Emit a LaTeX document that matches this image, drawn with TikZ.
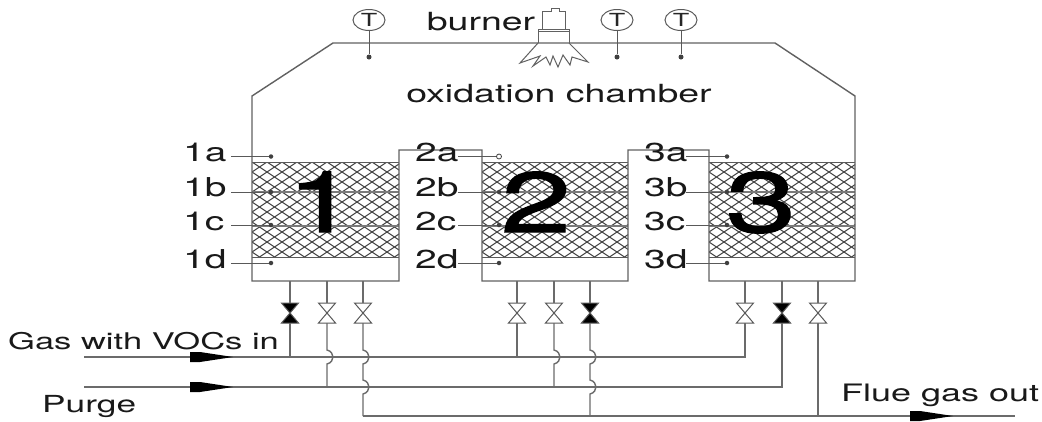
\documentclass[tikz,border=0pt]{standalone}
\usepackage{fontspec}
\setmainfont[FakeStretch=1.5]{TeX Gyre Heros}
\newfontfamily\bignum[FakeStretch=1.5,FakeBold=1.5]{TeX Gyre Heros}
\usetikzlibrary{shapes.geometric}
\tikzset{
  x=1pt,y=-1pt,
  wall/.style={draw=black!62,line width=1.4pt},
  pipe/.style={draw=black!58,line width=1.4pt},
  thin line/.style={draw=black!65,line width=1pt},
  sep/.style={draw=black!52,line width=2.2pt},
  hatch/.style={draw=black!72,line width=1pt},
  lab/.style={inner sep=0pt,text=black!90,font=\fontsize{25}{25}\selectfont,anchor=base},
  tag/.style={inner sep=0pt,text=black!90,font=\fontsize{26}{26}\selectfont,anchor=base west},
  side/.style={inner sep=0pt,text=black!90,font=\fontsize{23.5}{24}\selectfont,anchor=base west},
  big/.style={inner sep=0pt,text=black,font=\bignum\fontsize{85}{85}\selectfont,anchor=base},
  tcirc/.style={ellipse,draw=black!65,line width=1pt,minimum width=32pt,minimum height=21pt,inner sep=0pt,font=\fontsize{18}{18}\selectfont,text=black!85},
  dot/.style={circle,fill=black!75,inner sep=0pt,minimum size=5pt},
  opendot/.style={circle,draw=black!75,fill=white,line width=.8pt,inner sep=0pt,minimum size=5pt},
  flowhead/.style={fill=black,draw=none},
}
\newcommand{\bedhatch}[2]{%
  \begin{scope}
    \clip (#1,162) rectangle (#2,257);
    \foreach \k in {-12,...,22}{
      \draw[hatch] ({#1+\k*15},162) -- ++(142.5,95);
      \draw[hatch] ({#1+\k*15},162) -- ++(-142.5,95);
    }
  \end{scope}}
\newcommand{\valve}[3]{% x, fill, name
  \coordinate (#3) at (#1,313);
  \path[draw=black!65,line width=1pt,fill=#2] (#3) -- ++(-8.5,-10) -- ++(17,0) -- cycle;
  \path[draw=black!65,line width=1pt,fill=#2] (#3) -- ++(-8.5,10) -- ++(17,0) -- cycle;}
\begin{document}
\begin{tikzpicture}
\useasboundingbox (0,0) rectangle (1042,421);
\fill[white] (0,0) rectangle (1042,421);
% packing
\bedhatch{252}{399}
\bedhatch{482}{628}
\bedhatch{709}{855}
\foreach \a/\b in {252/399,482/628,709/855}{
  \draw[thin line] (\a,162) -- (\b,162);
  \draw[thin line] (\a,257) -- (\b,257);
  \draw[sep] (\a,192) -- (\b,192);
  \draw[sep] (\a,226) -- (\b,226);
}
% vessel outline
\draw[wall] (252,281) -- (252,96) -- (333,43) -- (775,43) -- (855,96) -- (855,281)
  -- (709,281) -- (709,150) -- (628,150) -- (628,281) -- (482,281) -- (482,150)
  -- (399,150) -- (399,281) -- cycle;
% big numbers
\node[big] (n1) at (322,232) {1};
\node[big] (n2) at (536,232) {2};
\node[big] (n3) at (761,232) {3};
% thermocouples
\foreach \x/\n in {369/ta,617/tb,681/tc}{
  \node[tcirc] (\n) at (\x,20) {T};
  \node[dot,minimum size=5pt] (\n d) at (\x,57) {};
  \draw[thin line] (\n) -- (\n d);
}
% burner
\draw[wall,line width=1pt] (538,43) -- (538,29) -- (569,29) -- (569,43);
\draw[wall,line width=1pt] (538,31.5) -- (569,31.5);
\draw[wall,line width=1pt] (542,29) -- (542,11) -- (551,11) -- (551,8) -- (559,8) -- (559,11) -- (565,11) -- (565,29);
\draw[wall,line width=1pt] (538,43) -- (520,63) -- (540,56) -- (533,66) -- (546,57) -- (550,65) -- (553,56) -- (558,67) -- (563,55) -- (570,65) -- (572,57) -- (588,62) -- (569,43);
\node[lab] (burner) at (481,30) {burner};
\node[lab] (chamber) at (559,102) {oxidation chamber};
% sampling tags
\foreach \s/\x/\lx/\sx in {1/271/183/231,2/499/415/458,3/727/644/686}{
  \foreach \t/\y/\ly in {a/156.5/161,b/192/196,c/225/230,d/263/268}{
    \node[tag] (l\s\t) at (\lx,\ly) {\s\t};
    \node[dot,minimum size=4.5pt] (d\s\t) at (\x,\y) {};
    \draw[thin line] (\sx,\y) -- (d\s\t);
  }
}
\node[opendot] (open2a) at (499,156.5) {};
% valves
\valve{290}{black}{va}
\valve{327}{white}{vb}
\valve{363}{white}{vc}
\valve{517}{white}{vd}
\valve{554}{white}{ve}
\valve{590}{black}{vf}
\valve{745}{white}{vg}
\valve{782}{black}{vh}
\valve{818}{white}{vi}
% main lines
\coordinate (gasS) at (84,357); \coordinate (gasE) at (745,357);
\coordinate (purS) at (84,387); \coordinate (purE) at (782,387);
\coordinate (flueS) at (363,416); \coordinate (flueE) at (1015,416);
\draw[pipe] (gasS) -- (gasE) -- ([yshift=-10pt]vg);
\draw[pipe] (purS) -- (purE) -- ([yshift=-10pt]vh);
\draw[pipe] (flueS) -- (flueE);
\draw[pipe] ([yshift=-10pt]vi) -- (818,416);
\draw[pipe] ([yshift=-10pt]va) -- (290,357);
\draw[pipe] ([yshift=-10pt]vd) -- (517,357);
% risers with jumps
\foreach \x/\v in {327/vb,554/ve}{
  \draw[pipe] ([yshift=-10pt]\v) -- (\x,350) .. controls (\x+8,352) and (\x+8,362) .. (\x,364) -- (\x,387);
}
\foreach \x/\v in {363/vc,590/vf}{
  \draw[pipe] ([yshift=-10pt]\v) -- (\x,350) .. controls (\x+8,352) and (\x+8,362) .. (\x,364) -- (\x,380)
    .. controls (\x+8,382) and (\x+8,392) .. (\x,394) -- (\x,416);
}
% valve stems to vessel
\foreach \x/\v in {290/va,327/vb,363/vc,517/vd,554/ve,590/vf,745/vg,782/vh,818/vi}{
  \draw[pipe] (\x,281) -- ([yshift=10pt]\v);
}
% flow arrows
\foreach \x/\y in {190/357,190/387,910/416}{
  \fill[flowhead] (\x,\y-5) -- (\x+10,\y-5) -- (\x+43,\y) -- (\x+10,\y+5) -- (\x,\y+5) -- cycle;
}
% labels
\node[side,font=\fontsize{23}{24}\selectfont] (gas) at (8,349) {Gas with VOCs in};
\node[side] (purge) at (42,412) {Purge};
\node[side,font=\fontsize{24}{24}\selectfont] (flue) at (841,401) {Flue gas out};
\end{tikzpicture}
\end{document}
